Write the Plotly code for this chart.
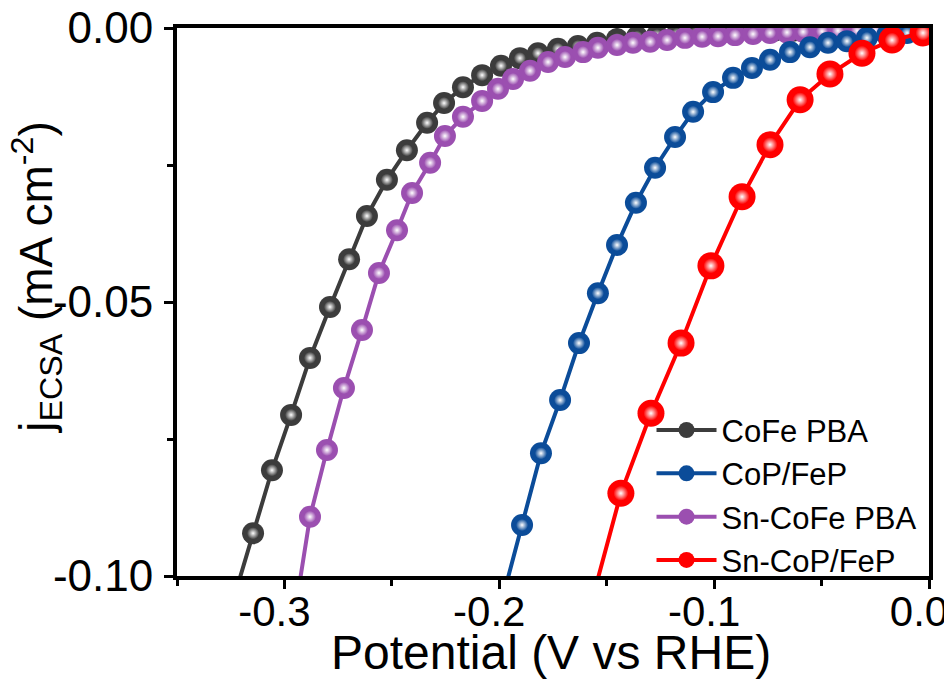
import plotly.graph_objects as go

# ---- data (Potential in V vs RHE, j_ECSA in mA cm^-2) ----
cofe_pba_x = [-0.3235, -0.3146, -0.3058, -0.2969, -0.2881, -0.2788, -0.2699, -0.2616,
              -0.2523, -0.2430, -0.2336, -0.2257, -0.2169, -0.2080, -0.1992, -0.1904,
              -0.1820, -0.1727, -0.1634, -0.1545, -0.1452, -0.1359, -0.1266, -0.1173,
              -0.1084, -0.0991, -0.0903, -0.0814, -0.0721, -0.0633, -0.0544, -0.0451]
cofe_pba_y = [-0.1040, -0.0922, -0.0807, -0.0706, -0.0602, -0.0509, -0.0422, -0.0343,
              -0.0277, -0.0223, -0.0173, -0.0137, -0.0108, -0.0086, -0.0069, -0.0055,
              -0.0046, -0.0038, -0.0033, -0.0027, -0.0020, -0.0016, -0.0013, -0.0011,
              -0.0009, -0.0008, -0.0007, -0.0006, -0.0005, -0.0005, -0.0004, -0.0004]

sn_cofe_pba_x = [-0.2942, -0.2881, -0.2802, -0.2723, -0.2639, -0.2560, -0.2476, -0.2406,
                 -0.2322, -0.2253, -0.2169, -0.2080, -0.2006, -0.1936, -0.1857, -0.1773,
                 -0.1694, -0.1610, -0.1541, -0.1452, -0.1378, -0.1298, -0.1219, -0.1136,
                 -0.1056, -0.0982, -0.0903, -0.0819, -0.0740, -0.0661, -0.0586, -0.0498,
                 -0.0424, -0.0335, -0.0251, -0.0172, -0.0088]
sn_cofe_pba_y = [-0.1044, -0.0892, -0.0770, -0.0657, -0.0551, -0.0447, -0.0369, -0.0301,
                 -0.0246, -0.0197, -0.0162, -0.0133, -0.0111, -0.0093, -0.0078, -0.0062,
                 -0.0053, -0.0044, -0.0036, -0.0031, -0.0027, -0.0025, -0.0022, -0.0018,
                 -0.0016, -0.0015, -0.0013, -0.0011, -0.0009, -0.0008, -0.0007, -0.0006,
                 -0.0005, -0.0005, -0.0004, -0.0004, -0.0004]

cop_fep_x = [-0.1987, -0.1894, -0.1806, -0.1717, -0.1629, -0.1541, -0.1452, -0.1364,
             -0.1275, -0.1182, -0.1098, -0.1005, -0.0912, -0.0824, -0.0740, -0.0647,
             -0.0554, -0.0470, -0.0382, -0.0289, -0.0195, -0.0102, -0.0009]
cop_fep_y = [-0.1044, -0.0907, -0.0776, -0.0679, -0.0575, -0.0484, -0.0396, -0.0319,
             -0.0255, -0.0199, -0.0153, -0.0117, -0.0091, -0.0073, -0.0058, -0.0044,
             -0.0035, -0.0027, -0.0024, -0.0018, -0.0013, -0.0009, -0.0007]

sn_cop_fep_x = [-0.1568, -0.1434, -0.1294, -0.1154, -0.1015, -0.0870, -0.0740, -0.0600,
                -0.0461, -0.0312, -0.0172, -0.0028]
sn_cop_fep_y = [-0.1044, -0.0849, -0.0703, -0.0575, -0.0434, -0.0308, -0.0213, -0.0131,
                -0.0084, -0.0046, -0.0022, -0.0009]

x_tick_vals = [-0.3, -0.2, -0.1, 0.0]
x_tick_text = ["-0.3", "-0.2", "-0.1", "0.0"]
y_tick_vals = [-0.10, -0.05, 0.00]
y_tick_text = ["-0.10", "-0.05", "0.00"]

x_title = "Potential (V vs RHE)"
y_title = "j<sub>ECSA</sub> (mA cm<sup>-2</sup>)"

FONT = "Arial, Liberation Sans, sans-serif"

series = [
    ("CoFe PBA", cofe_pba_x, cofe_pba_y, "#3c3c3c", 22, 1),
    ("Sn-CoFe PBA", sn_cofe_pba_x, sn_cofe_pba_y, "#9b4fb0", 22, 3),
    ("CoP/FeP", cop_fep_x, cop_fep_y, "#0b4c99", 22, 2),
    ("Sn-CoP/FeP", sn_cop_fep_x, sn_cop_fep_y, "#ff0000", 27, 4),
]

fig = go.Figure()
for name, xs, ys, col, size, rank in series:
    fig.add_trace(go.Scatter(
        x=xs, y=ys, mode="lines+markers", name=name, legendrank=rank,
        line=dict(color=col, width=4),
        marker=dict(color=col, size=size, line=dict(width=0)),
    ))
    # glossy highlight on the sphere markers
    fig.add_trace(go.Scatter(
        x=xs, y=ys, mode="markers", showlegend=False, hoverinfo="skip",
        marker=dict(color=col, size=size * 0.55, line=dict(width=0),
                    gradient=dict(type="radial", color="#ffffff")),
    ))

axis_common = dict(
    showline=True, linewidth=4, linecolor="black", mirror=True,
    showgrid=False, zeroline=False,
    ticks="outside", ticklen=9, tickwidth=3, tickcolor="black",
    minor=dict(ticks="outside", ticklen=6, tickwidth=3, tickcolor="black"),
    ticklabeloverflow="allow",
)

fig.update_xaxes(
    range=[-0.35, 0.0], tickmode="array", tickvals=x_tick_vals, ticktext=x_tick_text,
    minor_dtick=0.05, minor_tick0=0,
    tickfont=dict(family=FONT, size=42, color="black"),
    ticklabelshift=-10, ticklabelstandoff=-13,
    **axis_common,
)
fig.update_yaxes(
    range=[-0.10, 0.0], tickmode="array", tickvals=y_tick_vals, ticktext=y_tick_text,
    minor_dtick=0.025, minor_tick0=0,
    tickfont=dict(family=FONT, size=44, color="black"),
    ticklabelstandoff=2,
    **axis_common,
)

fig.add_annotation(
    text=x_title, xref="paper", yref="paper", x=0.497, y=-0.14,
    xanchor="center", yanchor="middle", showarrow=False,
    font=dict(family=FONT, size=48, color="black"),
)
fig.add_annotation(
    text=y_title, xref="paper", yref="paper", x=-0.187, y=0.545,
    xanchor="center", yanchor="middle", showarrow=False, textangle=-90,
    font=dict(family=FONT, size=46, color="black"),
)

# the page body adds an 8 px offset, so the figure is 8 px smaller on each axis
fig.update_layout(
    width=944, height=680,
    margin=dict(l=169, r=23, t=20, b=112, autoexpand=False),
    plot_bgcolor="white", paper_bgcolor="white",
    showlegend=True,
    legend=dict(x=0.631, y=0.315, xanchor="left", yanchor="top",
                bgcolor="rgba(0,0,0,0)", borderwidth=0,
                font=dict(family=FONT, size=31, color="black"),
                itemwidth=60, tracegroupgap=0),
)

fig.write_html("out.html")
